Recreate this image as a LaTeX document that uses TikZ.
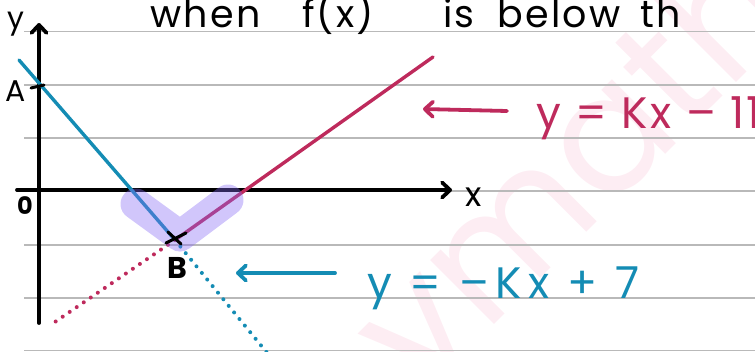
\documentclass[tikz,border=0pt]{standalone}
\usepackage{fontspec}
\setmainfont{Poppins}
\usetikzlibrary{arrows.meta}

\begin{document}
\begin{tikzpicture}[
  x=1pt,y=-1pt,
  >={Straight Barb[length=8pt,width=15pt,round]},
  rule/.style={draw=gray!55,line width=1.3pt},
  axis/.style={->,line width=3.8pt,line cap=round},
  graph/.style={draw=#1,line width=3.4pt,line cap=round},
  dots/.style={draw=#1,line width=4pt,line cap=round,dash pattern=on 0pt off 8.5pt},
  pointer/.style={->,draw=#1,line width=3.8pt,line cap=round},
  lbl/.style={font=\fontsize{30}{30}\selectfont,inner sep=0pt},
  ttl/.style={font=\fontsize{38}{38}\selectfont\addfontfeature{LetterSpace=6},inner sep=0pt,anchor=base west},
  eqn/.style={font=\fontsize{44}{44}\selectfont\addfontfeature{LetterSpace=6},text=#1,inner sep=0pt,anchor=base west}]

  \definecolor{blueln}{RGB}{20,140,180}
  \definecolor{magln}{RGB}{190,42,92}
  \definecolor{blob}{RGB}{133,106,244}
  \definecolor{wmark}{RGB}{253,237,243}

  \useasboundingbox (0,0) rectangle (755,351);
  \clip (0,0) rectangle (755,351);

  % ================= paper =================
  \node[text=wmark,font=\fontsize{165}{165}\selectfont,rotate=45] (wm) at (583,180) {ymath};
  \foreach \ry in {31.7,85,138,191,245,298,350.5}
    \draw[rule] (24,\ry) -- (755,\ry);

  % ================= axes =================
  \coordinate (yBot) at (39,323);
  \coordinate (yTop) at (39,23);
  \coordinate (xLeft) at (17,190);
  \coordinate (xRight) at (452,190);
  \draw[axis] (yBot) -- (yTop);
  \draw[axis] (xLeft) -- (xRight);
  \node[lbl] (ylab) at (16,24) {y};
  \node[lbl,font=\fontsize{34}{34}\selectfont] (xlab) at (474,197) {x};
  \node[lbl,font=\fontsize{24}{24}\selectfont\bfseries] (orig) at (25,206) {0};

  % ================= the two lines =================
  \coordinate (B) at (175,240);
  \coordinate (blueTop) at (19,60);
  \coordinate (blueEnd) at (268,354);
  \coordinate (magTop) at (433,57);
  \coordinate (magEnd) at (52,324);
  \draw[dots=blueln] (B) -- (blueEnd);
  \draw[dots=magln] (B) -- (magEnd);
  \draw[graph=blueln] (blueTop) -- (B);
  \draw[graph=magln] (B) -- (magTop);

  % highlighted minimum
  \draw[draw=blob,draw opacity=0.38,line width=31pt,line cap=round,line join=round]
    (136,204) -- (180,236) -- (228,200);

  % points A and B
  \node[lbl] (Alab) at (16,91) {A};
  \draw[line width=3pt,line cap=round] (31,88) -- (44,85);
  \draw[line width=3pt,line cap=round] (166,243) -- (186,233);
  \draw[line width=3pt,line cap=round] (168,232) -- (181,244);
  \node[lbl,font=\fontsize{30}{30}\selectfont\bfseries] (Blab) at (177,268) {B};

  % ================= labels =================
  \coordinate (magTail) at (507,111);
  \coordinate (magTip) at (423,109);
  \draw[pointer=magln] (magTail) -- (magTip);
  \node[eqn=magln] (magEq) at (536,128) {y = Kx – 11};

  \coordinate (blueTail) at (335,273);
  \coordinate (blueTip) at (236,273);
  \draw[pointer=blueln] (blueTail) -- (blueTip);
  \node[eqn=blueln,font=\fontsize{44}{44}\selectfont\addfontfeature{LetterSpace=14}] (blueEq) at (367,298) {y = –Kx + 7};

  % title
  \node[ttl] (tWhen) at (150,27) {when};
  \node[ttl] (tFx) at (302,27) {f(x)};
  \node[ttl] (tIs) at (443,27) {is};
  \node[ttl] (tBelow) at (497,27) {below};
  \node[ttl] (tTh) at (640,27) {th};
\end{tikzpicture}
\end{document}
